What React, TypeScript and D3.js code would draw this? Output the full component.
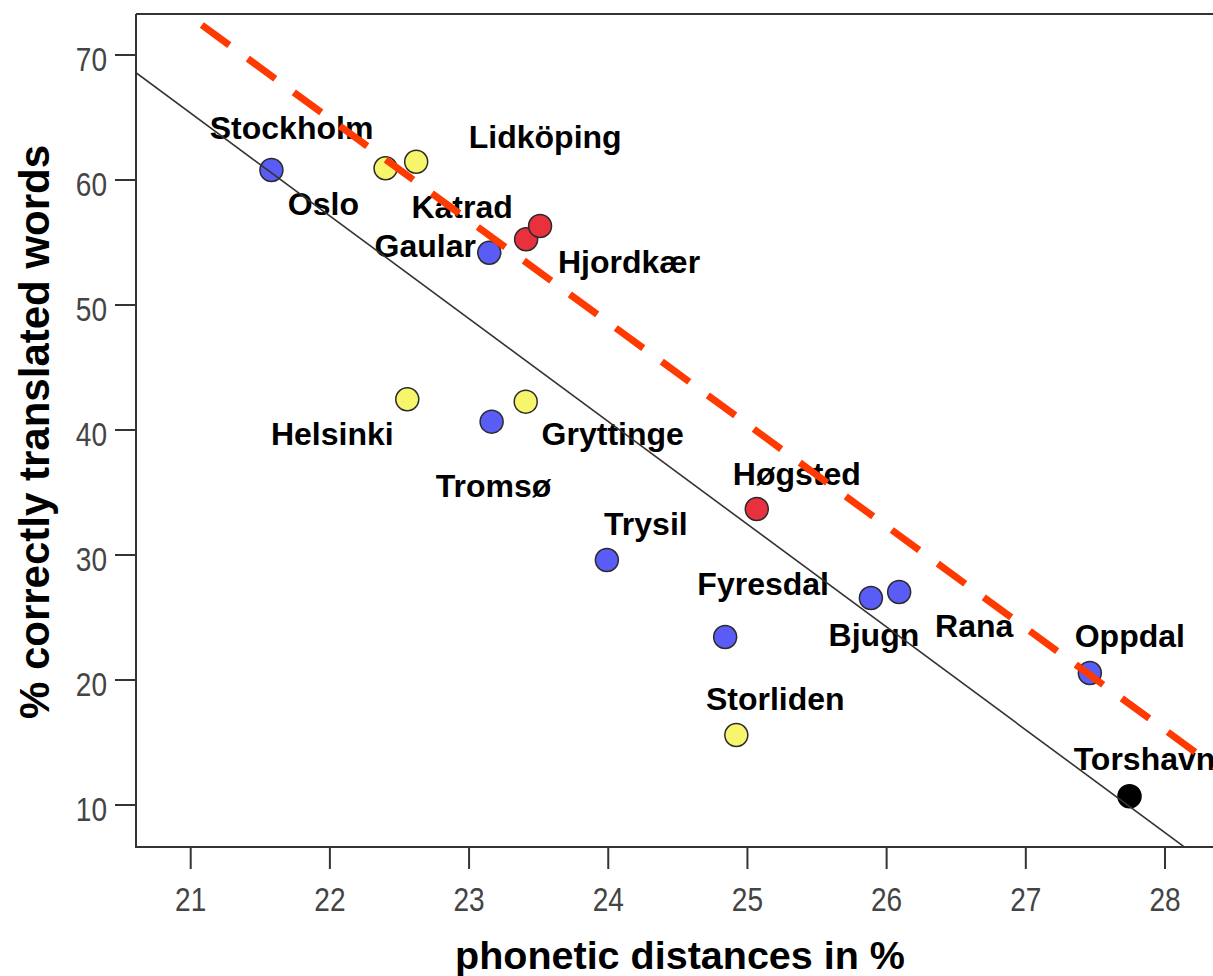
import React from "react";
import * as d3 from "d3";

// Dialect locations: phonetic distance (%) vs. % correctly translated words
const places = [
  "Oslo", "Stockholm", "Lidköping", "Katrad", "Hjordkær", "Gaular",
  "Helsinki", "Tromsø", "Gryttinge", "Høgsted", "Trysil", "Fyresdal",
  "Bjugn", "Rana", "Oppdal", "Storliden", "Torshavn",
];
const distances = [
  21.58, 22.40, 22.62, 23.41, 23.51, 23.145,
  22.556, 23.162, 23.407, 25.067, 23.99, 24.84,
  25.887, 26.09, 27.46, 24.92, 27.745,
];
const scores = [
  60.8, 60.94, 61.46, 55.26, 56.32, 54.18,
  42.46, 40.67, 42.27, 33.68, 29.6, 23.44,
  26.56, 27.04, 20.56, 15.6, 10.7,
];
const groups = [
  "no", "se", "se", "dk", "dk", "no",
  "se", "no", "se", "dk", "no", "no",
  "no", "no", "no", "se", "fo",
];

const xTicks = [21, 22, 23, 24, 25, 26, 27, 28];
const yTicks = [10, 20, 30, 40, 50, 60, 70];

// Least-squares fit (intercept, slope) and the shifted reference line
const fitLine = [238.03, -8.223];
const refLine = [244.2, -8.15];
const refLineStart = 21.08;

const groupColors: Record<string, string> = {
  no: "#5a5cf6",
  se: "#f7f56c",
  dk: "#e8313c",
  fo: "#000000",
};

// Label placement relative to each marker (px)
const labelOffsets: Record<string, [number, number]> = {
  Oslo: [52, 45],
  Stockholm: [-94, -29],
  "Lidköping": [129, -14],
  Katrad: [-64, -21],
  "Hjordkær": [89, 47],
  Gaular: [-64, 4],
  Helsinki: [-75, 46],
  "Tromsø": [2, 75],
  Gryttinge: [87, 43],
  "Høgsted": [40, -24],
  Trysil: [39, -25],
  Fyresdal: [38, -42],
  Bjugn: [3, 48],
  Rana: [75, 45],
  Oppdal: [40, -26],
  Storliden: [39, -25],
  Torshavn: [15, -26],
};

const W = 1213;
const H = 976;
const plot = { left: 136, top: 14, bottom: 847, right: 1300 };

export default function App() {
  const x = d3.scaleLinear().domain([21, 28]).range([190.7, 1165]);
  const y = d3.scaleLinear().domain([10, 70]).range([805, 55]);

  const xMin = x.invert(plot.left);
  const xMax = x.invert(plot.right);

  const toPath = d3
    .line<[number, number]>()
    .x((d) => x(d[0]))
    .y((d) => y(d[1]));

  const fitPath = toPath([
    [xMin, fitLine[0] + fitLine[1] * xMin],
    [xMax, fitLine[0] + fitLine[1] * xMax],
  ]);
  const refPath = toPath([
    [refLineStart, refLine[0] + refLine[1] * refLineStart],
    [xMax, refLine[0] + refLine[1] * xMax],
  ]);

  const font = "'Liberation Sans', Arial, sans-serif";

  return (
    <svg
      width={W}
      height={H}
      style={{ position: "absolute", left: 0, top: 0, background: "#fff" }}
    >
      <defs>
        <clipPath id="plotClip">
          <rect
            x={plot.left}
            y={plot.top}
            width={plot.right - plot.left}
            height={plot.bottom - plot.top}
          />
        </clipPath>
      </defs>
      <rect x={0} y={0} width={W} height={H} fill="#fff" />

      {/* markers */}
      <g>
        {places.map((p, i) => (
          <circle
            key={p}
            cx={x(distances[i])}
            cy={y(scores[i])}
            r={11.5}
            fill={groupColors[groups[i]]}
            stroke={groups[i] === "fo" ? "#000" : "#2b2b2b"}
            strokeWidth={1.5}
          />
        ))}
      </g>

      {/* place labels */}
      <g
        fontFamily={font}
        fontWeight="bold"
        fontSize={32}
        fill="#000"
        textAnchor="middle"
      >
        {places.map((p, i) => (
          <text
            key={p}
            x={x(distances[i]) + labelOffsets[p][0]}
            y={y(scores[i]) + labelOffsets[p][1]}
          >
            {p}
          </text>
        ))}
      </g>

      {/* fit line and reference line */}
      <g clipPath="url(#plotClip)">
        <path d={fitPath ?? ""} stroke="#333" strokeWidth={1.6} fill="none" />
        <path
          d={refPath ?? ""}
          stroke="#ff3a00"
          strokeWidth={7}
          strokeDasharray="34 23"
          fill="none"
        />
      </g>

      {/* frame */}
      <g stroke="#333" strokeWidth={2} fill="none">
        <line x1={plot.left} x2={plot.left} y1={plot.top} y2={plot.bottom + 1} />
        <line x1={plot.left} x2={W} y1={plot.bottom} y2={plot.bottom} />
        <line x1={plot.left} x2={W} y1={plot.top} y2={plot.top} />
      </g>

      {/* y axis */}
      <g>
        {yTicks.map((t) => (
          <g key={t}>
            <line
              x1={115}
              x2={plot.left}
              y1={y(t)}
              y2={y(t)}
              stroke="#333"
              strokeWidth={2}
            />
            <text
              transform={`translate(107,${y(t) + 16}) scale(0.85,1)`}
              textAnchor="end"
              fontFamily={font}
              fontSize={33}
              fill="#444"
            >
              {t}
            </text>
          </g>
        ))}
      </g>

      {/* x axis */}
      <g>
        {xTicks.map((t) => (
          <g key={t}>
            <line
              x1={x(t)}
              x2={x(t)}
              y1={plot.bottom}
              y2={869}
              stroke="#333"
              strokeWidth={2}
            />
            <text
              transform={`translate(${x(t)},911) scale(0.85,1)`}
              textAnchor="middle"
              fontFamily={font}
              fontSize={33}
              fill="#444"
            >
              {t}
            </text>
          </g>
        ))}
      </g>

      {/* axis titles */}
      <text
        x={680}
        y={969}
        textAnchor="middle"
        fontFamily={font}
        fontWeight="bold"
        fontSize={39.5}
        fill="#000"
      >
        phonetic distances in %
      </text>
      <text
        transform="translate(49,432) rotate(-90)"
        textAnchor="middle"
        fontFamily={font}
        fontWeight="bold"
        fontSize={42}
        fill="#000"
      >
        % correctly translated words
      </text>
    </svg>
  );
}
